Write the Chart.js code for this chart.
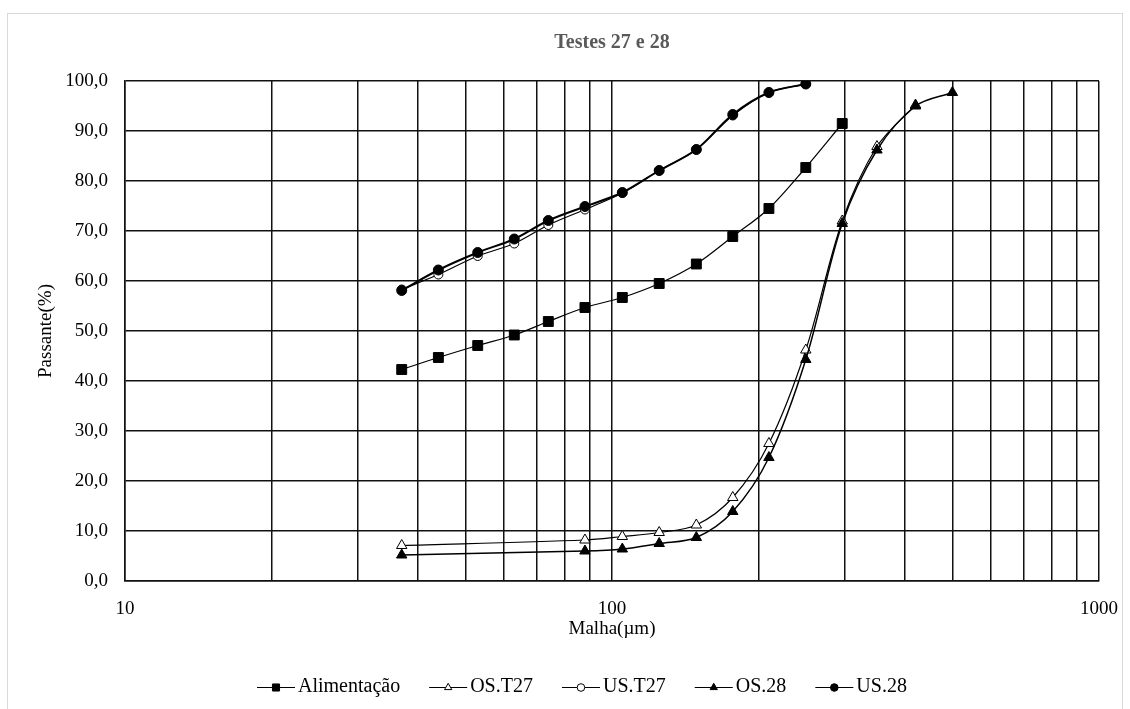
<!DOCTYPE html>
<html>
<head>
<meta charset="utf-8">
<script src="https://cdn.jsdelivr.net/npm/chart.js@4.4.0/dist/chart.umd.min.js"></script>
<style>
  html, body { margin: 0; padding: 0; background: #ffffff; }
  canvas { display: block; }
</style>
</head>
<body>
<canvas id="chart" width="1130" height="709"></canvas>
<script>
// Mesh openings (µm) for each series
const sizesFeed = [37, 44, 53, 63, 74, 88, 105, 125, 149, 177, 210, 250, 297];
const sizesUS   = [37, 44, 53, 63, 74, 88, 105, 125, 149, 177, 210, 250];
const sizesOS27 = [37, 88, 105, 125, 149, 177, 210, 250, 297, 350, 420];
const sizesOS28 = [37, 88, 105, 125, 149, 177, 210, 250, 297, 350, 420, 500];

// Cumulative passing (%)
const alimentacao = [42.3, 44.7, 47.1, 49.2, 51.9, 54.7, 56.7, 59.5, 63.4, 68.9, 74.5, 82.7, 91.5];
const osT27 = [7.1, 8.2, 8.9, 9.7, 11.2, 16.7, 27.5, 46.2, 72.0, 86.9, 95.2];
const usT27 = [58.3, 61.3, 65.0, 67.5, 71.2, 74.3, 77.6, 82.1, 86.3, 93.1, 97.7, 99.4];
const os28  = [5.2, 6.0, 6.4, 7.5, 8.7, 13.9, 24.7, 44.3, 71.5, 86.2, 95.0, 97.7];
const us28  = [58.1, 62.2, 65.7, 68.4, 72.1, 74.9, 77.7, 82.1, 86.3, 93.3, 97.7, 99.4];

// Axis ticks
const xGridValues = [10, 20, 30, 40, 50, 60, 70, 80, 90, 100, 200, 300, 400, 500, 600, 700, 800, 900, 1000];
const xTickLabels = ['10', '100', '1000'];
const seriesNames = ['Alimentação', 'OS.T27', 'US.T27', 'OS.28', 'US.28'];

const FONT = "'Liberation Serif', 'Times New Roman', serif";

function pairs(xs, ys) {
  return xs.map((x, i) => ({ x: x, y: ys[i] }));
}

function series(name, xs, ys, style, radius, filled, width, order) {
  return {
    label: name,
    data: pairs(xs, ys),
    borderColor: '#000000',
    borderWidth: width,
    backgroundColor: filled ? '#000000' : '#ffffff',
    pointStyle: style,
    pointRadius: radius,
    pointHoverRadius: radius,
    pointBackgroundColor: filled ? '#000000' : '#ffffff',
    pointBorderColor: '#000000',
    pointBorderWidth: 1,
    tension: 0.33,
    fill: false,
    order: order
  };
}

const datasets = [
  series(seriesNames[0], sizesFeed, alimentacao, 'rect', 7, true, 1.2, 4),
  series(seriesNames[1], sizesOS27, osT27, 'triangle', 6, false, 1.2, 3),
  series(seriesNames[2], sizesUS, usT27, 'circle', 4.5, false, 1.2, 2),
  series(seriesNames[3], sizesOS28, os28, 'triangle', 6, true, 1.5, 1),
  series(seriesNames[4], sizesUS, us28, 'circle', 5, true, 2, 0)
];

// Frame, titles and line+marker legend drawn on the canvas
const decorations = {
  id: 'decorations',
  beforeDraw(chart) {
    const ctx = chart.ctx;
    ctx.save();
    ctx.fillStyle = '#ffffff';
    ctx.fillRect(0, 0, chart.width, chart.height);
    ctx.strokeStyle = '#d9d9d9';
    ctx.lineWidth = 1;
    ctx.strokeRect(7.5, 13.5, 1115, 720);
    ctx.restore();
  },
  afterDraw(chart) {
    const ctx = chart.ctx;
    const area = chart.chartArea;
    ctx.save();

    // Chart title
    ctx.fillStyle = '#595959';
    ctx.font = 'bold 20px ' + FONT;
    ctx.textAlign = 'center';
    ctx.textBaseline = 'middle';
    ctx.fillText('Testes 27 e 28', (area.left + area.right) / 2, 43);

    // Axis titles
    ctx.fillStyle = '#000000';
    ctx.font = '19px ' + FONT;
    ctx.fillText('Malha(µm)', (area.left + area.right) / 2, 629);
    ctx.save();
    ctx.translate(46, (area.top + area.bottom) / 2);
    ctx.rotate(-Math.PI / 2);
    ctx.fillText('Passante(%)', 0, 0);
    ctx.restore();

    // Legend
    const legendY = 687;
    let x = 257;
    const lineLen = 38;
    const legendRadius = { rect: 5, triangle: 4.2, circle: 3.8 };
    ctx.font = '20px ' + FONT;
    ctx.textAlign = 'left';
    datasets.forEach((ds) => {
      ctx.strokeStyle = '#000000';
      ctx.lineWidth = 1.2;
      ctx.beginPath();
      ctx.moveTo(x, legendY + 0.5);
      ctx.lineTo(x + lineLen, legendY + 0.5);
      ctx.stroke();
      ctx.fillStyle = ds.pointBackgroundColor;
      ctx.strokeStyle = '#000000';
      ctx.lineWidth = 1;
      Chart.helpers.drawPoint(ctx, {
        pointStyle: ds.pointStyle,
        rotation: 0,
        radius: legendRadius[ds.pointStyle],
        borderWidth: 1
      }, x + lineLen / 2, legendY + 0.5);
      ctx.fillStyle = '#000000';
      const tx = x + lineLen + 3;
      ctx.fillText(ds.label, tx, legendY);
      x = tx + ctx.measureText(ds.label).width + 29;
    });
    ctx.restore();
  }
};

new Chart(document.getElementById('chart'), {
  type: 'line',
  data: { datasets: datasets },
  options: {
    responsive: false,
    animation: false,
    events: [],
    layout: { padding: { left: 0, top: 81, right: 31, bottom: 88 } },
    plugins: {
      legend: { display: false },
      title: { display: false },
      tooltip: { enabled: false }
    },
    scales: {
      x: {
        type: 'logarithmic',
        min: 10,
        max: 1000,
        afterFit(scale) {
          scale.height = 40;
          scale.paddingLeft = 0;
          scale.paddingRight = 0;
        },
        afterBuildTicks(scale) {
          scale.ticks = xGridValues.map((v) => ({ value: v }));
        },
        ticks: {
          autoSkip: false,
          maxRotation: 0,
          padding: 17,
          color: '#000000',
          font: { family: FONT, size: 19 },
          callback(value) {
            const s = String(value);
            return xTickLabels.includes(s) ? s : '';
          }
        },
        grid: { color: '#111111', lineWidth: 1.5, drawTicks: false },
        border: { color: '#111111', width: 1.5 }
      },
      y: {
        min: 0,
        max: 100,
        afterFit(scale) {
          scale.width = 125;
          scale.paddingTop = 0;
          scale.paddingBottom = 0;
        },
        ticks: {
          stepSize: 10,
          padding: 17,
          color: '#000000',
          font: { family: FONT, size: 19 },
          callback(value) { return value.toFixed(1).replace('.', ','); }
        },
        grid: { color: '#111111', lineWidth: 1.5, drawTicks: false },
        border: { color: '#111111', width: 1.5 }
      }
    }
  },
  plugins: [decorations]
});
</script>
</body>
</html>
